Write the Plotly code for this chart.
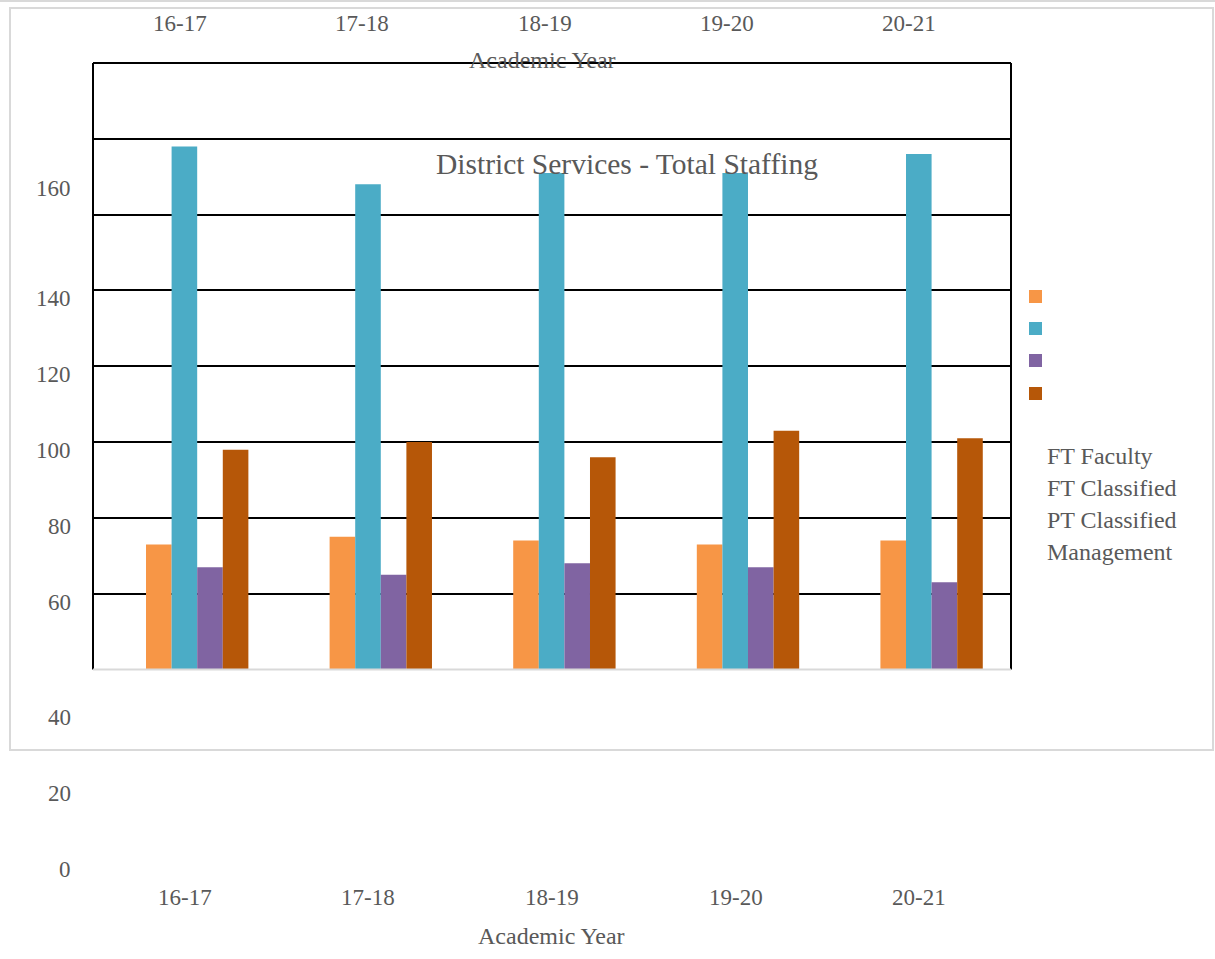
import plotly.graph_objects as go

# ---- data -------------------------------------------------------------
years = ["16-17", "17-18", "18-19", "19-20", "20-21"]
ft_faculty = [73, 75, 74, 73, 74]
ft_classified = [178, 168, 171, 171, 176]
pt_classified = [67, 65, 68, 67, 63]
management = [98, 100, 96, 103, 101]

series_names = ["FT Faculty", "FT Classified", "PT Classified", "Management"]
series_values = [ft_faculty, ft_classified, pt_classified, management]
series_colors = ["#F79646", "#4BACC6", "#8064A2", "#B65708"]

y_tick_labels = ["160", "140", "120", "100", "80", "60", "40", "20", "0"]
grid_values = [60, 80, 100, 120, 140, 160, 180]

title_text = "District Services - Total Staffing"
axis_title = "Academic Year"

# ---- page geometry ----------------------------------------------------
W, H = 1215, 959
FONT = "Liberation Serif"
TXT = "#595959"


def px(x):
    return x / W


def py(y):
    return 1 - y / H


plot_left, plot_right = 93, 1011
plot_top, plot_bottom = 63, 669.5

bar_w = 0.1394
group_start = -0.2113

fig = go.Figure()
for k, (name, vals, col) in enumerate(zip(series_names, series_values, series_colors)):
    fig.add_trace(go.Bar(
        x=list(range(len(years))),
        y=vals,
        name=name,
        width=bar_w,
        offset=group_start + k * bar_w,
        marker=dict(color=col, line=dict(width=0)),
        showlegend=False,
    ))

annotations = []


def label(text, x, y, size=23, xanchor="center", xref="paper"):
    annotations.append(dict(
        text=text, x=x, y=y, xref=xref, yref="paper",
        xanchor=xanchor, yanchor="middle", showarrow=False,
        font=dict(family=FONT, size=size, color=TXT),
    ))


# value-axis labels
y_label_rows = [189, 298.5, 374.5, 450.5, 526.5, 602.5, 717, 793.5, 869]
for t, yy in zip(y_tick_labels, y_label_rows):
    label(t, px(73), py(yy), xanchor="right")
label("0", px(63), py(-7))

# category labels: lower row on the category axis, upper row across the top
for i, yr in enumerate(years):
    label(yr, i, py(897.5), xref="x")
    label(yr, px(180 + i * 182.25), py(24))
label(axis_title, px(551.5), py(936), size=24)
label(axis_title, px(542.5), py(60), size=24)

# chart title
label(title_text, px(626.5), py(164), size=29.5)

# legend entries
swatch_rows = [296.5, 328.5, 360.5, 393.5]
text_rows = [456, 488, 520, 552]
shapes = []
for name, col, sy, ty in zip(series_names, series_colors, swatch_rows, text_rows):
    shapes.append(dict(type="rect", xref="paper", yref="paper",
                       x0=px(1029), x1=px(1042), y0=py(sy - 6.5), y1=py(sy + 6.5),
                       fillcolor=col, line=dict(width=0)))
    label(name, px(1045), py(ty), size=24, xanchor="left")

# outer chart frame and page rule
shapes.append(dict(type="rect", xref="paper", yref="paper",
                   x0=px(10), x1=px(1213), y0=py(8), y1=py(750),
                   line=dict(color="#D9D9D9", width=2), layer="below"))
shapes.append(dict(type="line", xref="paper", yref="paper",
                   x0=0, x1=1, y0=py(1), y1=py(1),
                   line=dict(color="#D9D9D9", width=2), layer="below"))

# plot-area border: dark on three sides, light category axis line
for x0, y0, x1, y1 in [(0, 0, 0, 1), (0, 1, 1, 1), (1, 0, 1, 1)]:
    shapes.append(dict(type="line", xref="x domain", yref="y domain",
                       x0=x0, y0=y0, x1=x1, y1=y1,
                       line=dict(color="#000000", width=2)))
shapes.append(dict(type="line", xref="x domain", yref="y domain",
                   x0=0, y0=0, x1=1, y1=0,
                   line=dict(color="#D9D9D9", width=2)))

fig.update_layout(
    width=W, height=H, autosize=False,
    margin=dict(l=0, r=0, t=0, b=0),
    paper_bgcolor="white", plot_bgcolor="white",
    barmode="overlay",
    showlegend=False,
    xaxis=dict(domain=[px(plot_left), px(plot_right)], range=[-0.5, 4.5],
               showticklabels=False, showgrid=False, zeroline=False,
               showline=False, ticks=""),
    yaxis=dict(domain=[py(plot_bottom), py(plot_top)], range=[40, 200],
               tickvals=grid_values, showticklabels=False, ticks="",
               showgrid=True, gridcolor="#000000", gridwidth=2,
               zeroline=False, showline=False),
    annotations=annotations,
    shapes=shapes,
)

fig.write_html("out.html")
